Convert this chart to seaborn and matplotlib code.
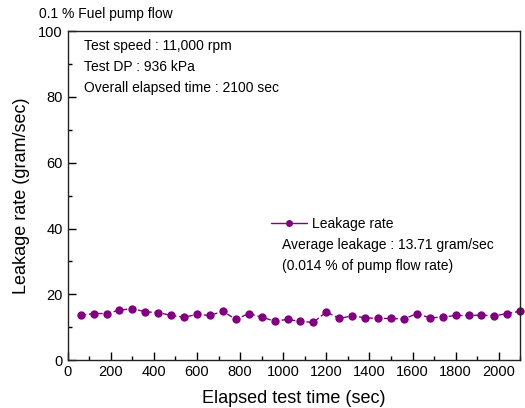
import numpy as np
import pandas as pd
import matplotlib
matplotlib.use("Agg")
import matplotlib.pyplot as plt
import seaborn as sns
from matplotlib.ticker import MultipleLocator

# elapsed test time (sec) and measured leakage (gram/sec)
time_sec = [60, 120, 180, 240, 300, 360, 420, 480, 540, 600, 660, 720,
            780, 840, 900, 960, 1020, 1080, 1140, 1200, 1260, 1320, 1380,
            1440, 1500, 1560, 1620, 1680, 1740, 1800, 1860, 1920, 1980,
            2040, 2100]
leakage = [13.6, 14.2, 14.2, 15.2, 15.7, 14.7, 14.5, 13.6, 13.1, 13.9, 13.6,
           14.9, 12.4, 14.2, 13.1, 11.9, 12.4, 11.8, 11.5, 14.7, 12.7, 13.5,
           12.9, 12.7, 12.7, 12.5, 14.2, 12.9, 13.1, 13.6, 13.6, 13.7, 13.5,
           14.2, 14.9]

df = pd.DataFrame({"Time": time_sec, "Leakage": leakage})

sns.set_style("ticks")
plt.rcParams['font.family'] = ['Liberation Sans', 'DejaVu Sans']
plt.rcParams['text.color'] = 'black'
plt.rcParams['axes.labelcolor'] = 'black'
plt.rcParams['xtick.color'] = 'black'
plt.rcParams['ytick.color'] = 'black'

fig = plt.figure(figsize=(5.25, 4.08), dpi=100)
ax = fig.add_axes([0.129, 0.117, 0.862, 0.807])

purple = "#800080"
sns.lineplot(data=df, x="Time", y="Leakage", ax=ax, color=purple,
             marker="o", markersize=6, markeredgewidth=0, linewidth=1,
             linestyle=(0, (4, 2)), label="Leakage rate", clip_on=False)

ax.set_xlim(0, 2100)
ax.set_ylim(0, 100)
ax.xaxis.set_major_locator(MultipleLocator(200))
ax.xaxis.set_minor_locator(MultipleLocator(100))
ax.yaxis.set_major_locator(MultipleLocator(20))
ax.yaxis.set_minor_locator(MultipleLocator(10))
ax.tick_params(which="both", direction="in", top=False, right=False,
               labelsize=10.5, width=1)
ax.tick_params(which="major", length=6)
ax.tick_params(which="minor", length=3)
for s in ax.spines.values():
    s.set_linewidth(1)
    s.set_color("#222222")

ax.set_xlabel("Elapsed test time (sec)", fontsize=13, labelpad=8)
ax.set_ylabel("Leakage rate (gram/sec)", fontsize=13, labelpad=6)

fig.text(0.075, 0.966, "0.1 % Fuel pump flow", fontsize=10, va="center")
ax.text(0.035, 0.955, "Test speed : 11,000 rpm", transform=ax.transAxes,
        fontsize=10, va="center")
ax.text(0.035, 0.89, "Test DP : 936 kPa", transform=ax.transAxes,
        fontsize=10, va="center")
ax.text(0.035, 0.826, "Overall elapsed time : 2100 sec", transform=ax.transAxes,
        fontsize=10, va="center")

leg = ax.legend(loc="center left", bbox_to_anchor=(0.45, 0.415), frameon=False,
                fontsize=10, handlelength=2.6, handletextpad=0.3,
                borderaxespad=0, borderpad=0)
for h in leg.get_lines():
    h.set_linestyle("-")
    h.set_markersize(5)
ax.text(0.473, 0.35, "Average leakage : 13.71 gram/sec", transform=ax.transAxes,
        fontsize=10, va="center")
ax.text(0.473, 0.286, "(0.014 % of pump flow rate)", transform=ax.transAxes,
        fontsize=10, va="center")

fig.savefig("out.png", dpi=100)
